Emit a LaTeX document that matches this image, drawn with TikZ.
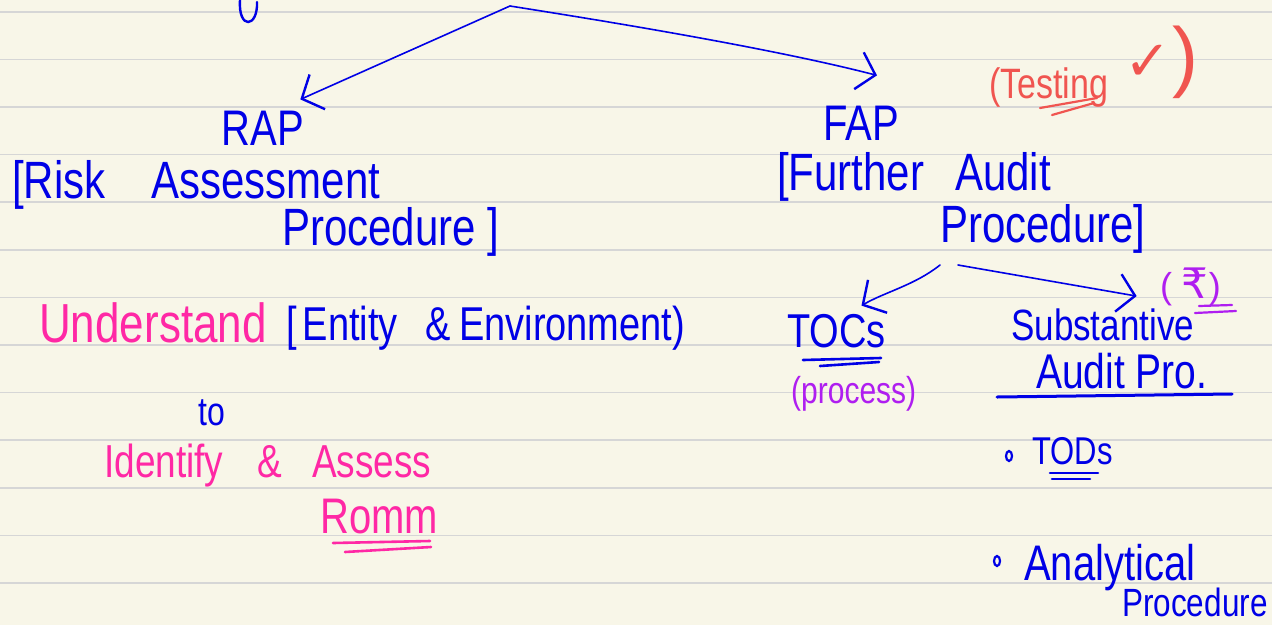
\documentclass[tikz,border=0pt]{standalone}
\usepackage{fontspec}
\setmainfont{Liberation Sans}
\newfontfamily\symfont{DejaVu Sans}
\usepackage{graphicx}
\usetikzlibrary{arrows.meta,calc}
\definecolor{paper}{RGB}{248,246,232}
\definecolor{ruling}{RGB}{214,214,214}
\definecolor{inkblue}{RGB}{0,0,230}
\definecolor{inkpink}{RGB}{255,40,165}
\definecolor{inkcoral}{RGB}{240,85,80}
\definecolor{inkviolet}{RGB}{175,30,240}
% handwriting is taller than the font: stretch each line vertically
\newcommand{\hw}[1]{\scalebox{1}[1.25]{#1}}

\begin{document}
\begin{tikzpicture}[x=1pt,y=-1pt,
  txt/.style={font=\fontsize{#1}{#1}\selectfont, inner sep=0pt, anchor=base west},
  pen/.style={line width=1.6pt, line cap=round, line join=round},
  barb/.style={-{Straight Barb[length=17pt,width=38pt,line width=2.4pt]}},
  uline/.style={line width=2.6pt, line cap=round},
]
% ruled notebook page
\fill[paper] (0,0) rectangle (1272,625);
\useasboundingbox (0,0) rectangle (1272,625);
\foreach \k in {0,...,12}
  \draw[ruling, line width=1.6pt] (0,{11.7+47.6*\k}) -- (1272,{11.7+47.6*\k});

% tail of a letter from the line above
\draw[inkblue, line width=2.4pt, line cap=round] (240,0) .. controls (238,30) and (258,28) .. (257,2);

% left branch: risk assessment
\node[txt=40, inkblue, anchor=base] (rap) at (263,145) {\hw{RAP}};
\node[txt=42, inkblue] (rapA) at (12,198) {\hw{[Risk\hspace{46pt}Assessment}};
\node[txt=42, inkblue] (rapB) at (282,245) {\hw{Procedure ]}};

\node[txt=44, inkpink] (und) at (39,342) {\hw{Understand}};
\node[txt=38, inkblue] (ent) at (286,340) {\hw{[\hspace{6pt}Entity\hspace{28pt}\&\hspace{8pt}Environment)}};
\node[txt=32, inkblue] (to) at (198,425) {\hw{to}};
\node[txt=37, inkpink] (idf) at (104,477) {\hw{Identify\hspace{34pt}\&\hspace{30pt}Assess}};
\node[txt=40, inkpink] (romm) at (320,533) {\hw{Romm}};
\draw[inkpink, uline] (333,543) -- (430,541);
\draw[inkpink, uline] (345,552) -- (431,547);

% right branch: further audit procedures
\node[txt=40, inkblue, anchor=base] (fap) at (861,140) {\hw{FAP}};
\node[txt=42, inkblue] (fapA) at (777,190) {\hw{[Further\hspace{31pt}Audit}};
\node[txt=42, inkblue] (fapB) at (940,242) {\hw{Procedure]}};

\node[txt=34, inkcoral] (test) at (989,98) {\hw{(Testing}};
\node[inkcoral, inner sep=0pt, anchor=base west, font=\symfont\fontsize{56}{56}\selectfont] (chk) at (1124,80) {✓};
\node[txt=78, inkcoral] (close) at (1172,82) {)};
\draw[inkcoral, line width=2.2pt, line cap=round] (1040,108) -- (1097,98);
\draw[inkcoral, line width=2.2pt, line cap=round] (1052,115) -- (1094,103);

\node[txt=38, inkblue] (tocs) at (787,347) {\hw{TOCs}};
\draw[inkblue, uline] (803,360) -- (881,358);
\draw[inkblue, uline] (820,366) -- (879,362);
\node[txt=30, inkviolet] (proc) at (791,403) {\hw{(process)}};

\node[txt=35, inkblue] (subst) at (1011,340) {\hw{Substantive}};
\node[txt=39, inkblue] (apro) at (1036,388) {\hw{Audit Pro.}};
\draw[inkblue, line width=3pt, line cap=round] (997,397) -- (1232,394);
\node[txt=36, inkviolet] (rs) at (1160,298) {(\hspace{9pt}{\symfont\fontsize{42}{42}\selectfont ₹}\hspace{1pt})};
\draw[inkviolet, line width=2.2pt, line cap=round] (1199,306) -- (1232,305);
\draw[inkviolet, line width=2.2pt, line cap=round] (1195,313) -- (1236,311);

\draw[inkblue, line width=2.2pt] (1009,456) ellipse (3 and 5);
\node[txt=31, inkblue] (tods) at (1032,464) {\hw{TODs}};
\draw[inkblue, uline] (1050,473) -- (1098,473);
\draw[inkblue, uline] (1052,479) -- (1090,479);

\draw[inkblue, line width=2.2pt] (997,561) ellipse (3 and 5);
\node[txt=40, inkblue] (anal) at (1024,580) {\hw{Analytical}};
\node[txt=31.5, inkblue] (proc2) at (1122,616) {\hw{Procedure}};

% connectors
\coordinate (top) at (510,6);
\draw[inkblue, pen, barb] (top) -- ($(rap.north east)+(-4,-11)$);
\draw[inkblue, pen, barb] (top) .. controls (560,14) and (760,45) .. ($(fap.north east)+(-22,-30)$);
\draw[inkblue, pen, barb] ($(fapB.base west)+(0,23)$) .. controls (915,285) and (885,292) .. ($(tocs.north)+(25,-8)$);
\draw[inkblue, pen, barb] ($(fapB.base west)+(18,23)$) -- ($(subst.north)+(34,-12)$);
\end{tikzpicture}
\end{document}
